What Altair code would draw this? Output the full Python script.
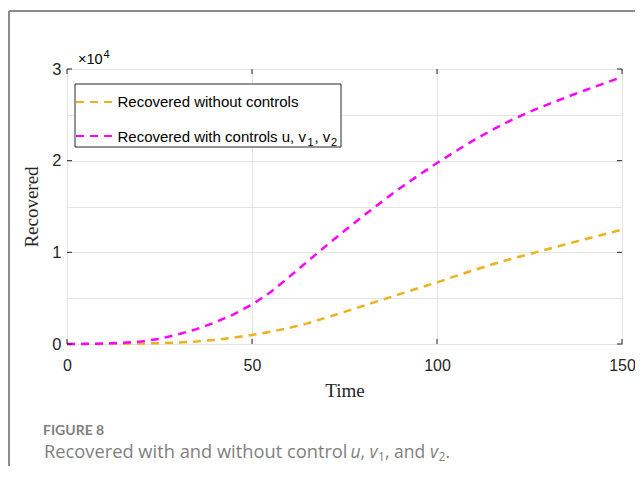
import altair as alt
import pandas as pd

# ---- data ----
time = [0, 5, 10, 15, 20, 25, 30, 35, 40, 45, 50, 55, 60, 65, 70, 75, 80, 85, 90, 95,
        100, 105, 110, 115, 120, 125, 130, 135, 140, 145, 150]
recovered_without = [0, 5, 15, 30, 55, 95, 150, 270, 450, 700, 980, 1330, 1750, 2250, 2870,
                     3500, 4150, 4800, 5450, 6100, 6720, 7400, 8060, 8700, 9280, 9820,
                     10360, 10900, 11430, 11950, 12470]
recovered_with = [0, 15, 50, 130, 280, 560, 1050, 1620, 2350, 3230, 4300, 5650, 7300, 9000,
                  10700, 12350, 13950, 15500, 17000, 18400, 19740, 21020, 22250, 23380,
                  24400, 25320, 26150, 26930, 27680, 28410, 29130]
series_names = ["Recovered without controls", "Recovered with controls u, v1, v2"]
series_colors = ["#EDB120", "#FF00FF"]
x_ticks = [0, 50, 100, 150]
y_ticks = [0, 10000, 20000, 30000]
y_grid = [0, 5000, 10000, 15000, 20000, 25000, 30000]

W, H = 555, 275
SANS = "Liberation Sans, Arial, sans-serif"
SERIF = "Liberation Serif, DejaVu Serif, serif"
CAP = "Open Sans, Noto Sans, sans-serif"
CAPB = "Lato, Open Sans, sans-serif"

df = pd.DataFrame({
    "t": time * 2,
    "value": recovered_without + recovered_with,
    "series": [series_names[0]] * len(time) + [series_names[1]] * len(time),
})

xscale = alt.Scale(domain=[0, 150], nice=False, zero=False)
yscale = alt.Scale(domain=[0, 30000], nice=False)

xaxis = alt.Axis(values=x_ticks, title="Time", labelFont=SANS, labelFontSize=16,
                 labelColor="#262626", grid=True, gridColor="#e3e3e3", domain=False,
                 ticks=False, labelFlush=False, labelPadding=13, titleFont=SERIF,
                 titleFontSize=19, titleFontWeight="normal", titleColor="#262626",
                 titlePadding=8)
yaxis = alt.Axis(values=y_grid,
                 labelExpr="datum.value % 10000 === 0 ? format(datum.value/10000, 'd') : ''",
                 title="Recovered", labelFont=SANS, labelFontSize=16.5, labelColor="#262626",
                 grid=True, gridColor="#e3e3e3", domain=False, ticks=False, labelFlush=False,
                 labelPadding=6, titleFont=SERIF, titleFontSize=19, titleFontWeight="normal",
                 titleColor="#262626", titlePadding=10)

lines = alt.Chart(df).mark_line(strokeDash=[8, 6], strokeWidth=2.5).encode(
    x=alt.X("t:Q", scale=xscale, axis=xaxis),
    y=alt.Y("value:Q", scale=yscale, axis=yaxis),
    color=alt.Color("series:N", scale=alt.Scale(domain=series_names, range=series_colors),
                    legend=None),
    detail="series:N",
)

one = alt.Data(values=[{"k": 1}])


def rule(x, y, x2=None, y2=None, color="#262626", width=1, dash=None):
    enc = {"x": alt.value(x), "y": alt.value(y)}
    if x2 is not None:
        enc["x2"] = alt.value(x2)
    if y2 is not None:
        enc["y2"] = alt.value(y2)
    kw = {"color": color, "strokeWidth": width}
    if dash:
        kw["strokeDash"] = dash
    return alt.Chart(one).mark_rule(**kw).encode(**enc)


def text(x, y, s, font=SANS, size=15, color="#000000", style="normal", weight="normal"):
    return alt.Chart(one).mark_text(align="left", baseline="alphabetic", font=font,
                                    fontSize=size, color=color, fontStyle=style,
                                    fontWeight=weight).encode(
        x=alt.value(x), y=alt.value(y), text=alt.value(s))


xt = pd.DataFrame({"v": x_ticks})
yt = pd.DataFrame({"v": y_ticks})
tick_bottom = alt.Chart(xt).mark_rule(color="#262626").encode(
    x=alt.X("v:Q", scale=xscale), y=alt.value(H), y2=alt.value(H - 5))
tick_top = alt.Chart(xt).mark_rule(color="#262626").encode(
    x=alt.X("v:Q", scale=xscale), y=alt.value(0), y2=alt.value(5))
tick_left = alt.Chart(yt).mark_rule(color="#262626").encode(
    y=alt.Y("v:Q", scale=yscale), x=alt.value(0), x2=alt.value(5))
tick_right = alt.Chart(yt).mark_rule(color="#262626").encode(
    y=alt.Y("v:Q", scale=yscale), x=alt.value(W), x2=alt.value(W - 5))

# legend box
legend_box = alt.Chart(one).mark_rect(fill="white", stroke="#262626", strokeWidth=1).encode(
    x=alt.value(8), x2=alt.value(274), y=alt.value(15), y2=alt.value(78))
leg_l1 = rule(9, 33, x2=46, color=series_colors[0], width=2, dash=[8, 6])
leg_l2 = rule(9, 67, x2=46, color=series_colors[1], width=2, dash=[8, 6])
leg_t1 = text(50.5, 38, "Recovered without controls")
leg_t2 = text(50.5, 72.5, "Recovered with controls u, v")
leg_s1 = text(240.5, 76.5, "1", size=11)
leg_t3 = text(247.5, 72.5, ", v")
leg_s2 = text(264, 76.5, "2", size=11)

# x10^4 multiplier
mult = text(11, -5.5, "\u00d710", size=14.5)
mult_exp = text(36.5, -11, "4", size=11)

# caption
cap_color = "#7f7f7f"
cap1 = text(-24, 366, "FIGURE 8", font=CAPB, size=14, color=cap_color, weight="bold")
CS = 17.5
CY = 388.5
cap_parts = [
    text(-23, CY, "Recovered with and without control", font=CAP, size=18.3, color=cap_color),
    text(283.5, CY, "u", font=CAP, size=CS, color=cap_color, style="italic"),
    text(293.5, CY, ",", font=CAP, size=CS, color=cap_color),
    text(302.5, CY, "v", font=CAP, size=CS, color=cap_color, style="italic"),
    text(311, CY + 3, "1", font=CAP, size=12, color=cap_color),
    text(318, CY, ", and", font=CAP, size=CS, color=cap_color),
    text(363, CY, "v", font=CAP, size=CS, color=cap_color, style="italic"),
    text(371.5, CY + 3, "2", font=CAP, size=12, color=cap_color),
    text(378.5, CY, ".", font=CAP, size=CS, color=cap_color),
]

# outer frame
frame_left = rule(-58, -58, y2=H + 122, color="#8c8c8c", width=2)
frame_top = rule(-58, -58, x2=W + 13, color="#8c8c8c", width=2)

chart = alt.layer(
    lines, tick_bottom, tick_top, tick_left, tick_right,
    legend_box, leg_l1, leg_l2, leg_t1, leg_t2, leg_s1, leg_t3, leg_s2,
    mult, mult_exp, cap1, *cap_parts, frame_left, frame_top,
).properties(
    width=W, height=H,
    padding={"left": 59, "top": 61, "right": 13, "bottom": 122},
    autosize="none",
    background="white",
).configure_view(stroke="#262626", strokeWidth=1)

chart.save("out.html", embed_options={"renderer": "svg", "actions": False})
